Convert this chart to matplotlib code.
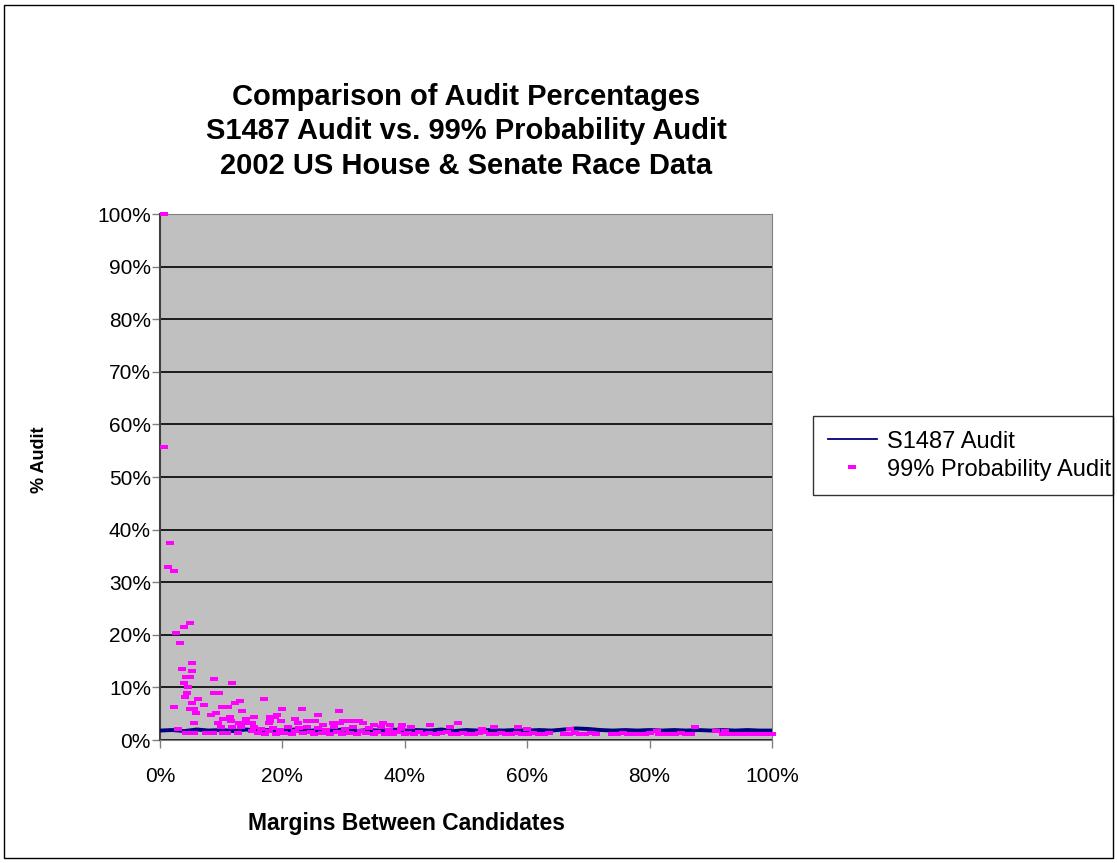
import matplotlib.pyplot as plt
from matplotlib.patches import Rectangle

plt.rcParams['font.family'] = ['Liberation Sans', 'DejaVu Sans']

# margin between candidates (%) and 99% probability audit (%)
prob_margin = [
    0.6, 0.6, 1.6, 1.3, 2.3, 4.9, 3.9, 2.7, 3.3, 5.2, 3.6, 5.2, 4.2, 4.9, 3.9,
    4.6, 8.8, 11.8, 4.4, 4.1, 6.2, 5.2, 2.3, 7.2, 8.8, 9.6, 4.9, 5.6, 5.9, 10.1,
    11.1, 12.3, 13.1, 17.0, 8.3, 9.2, 13.4, 10.3, 11.4, 5.6, 9.5, 11.6, 14.1,
    15.4, 12.9, 13.9, 15.0, 10.0, 11.7, 13.2, 15.4, 2.9, 15.0, 4.2, 5.6, 7.5,
    8.7, 10.3, 10.9, 12.7, 17.8, 18.0,
    19.9, 23.2, 25.8, 29.2, 19.1, 18.8, 22.1, 18.0, 19.8, 24.0, 25.3, 22.5,
    26.6, 28.3, 29.9, 31.2, 32.5, 36.4, 35.0, 37.6, 33.2, 29.4, 39.5, 41.0,
    44.1, 48.7, 47.4, 54.6, 58.5, 52.6, 60.0, 67.0, 87.4, 90.8, 92.3, 81.2,
    16.0, 16.5, 17.2, 17.8, 18.5, 19.0, 19.6, 20.3, 20.9, 21.5, 22.0, 22.8,
    23.4, 24.0, 24.6, 25.2, 25.9, 26.5, 27.1, 27.8, 28.5, 29.0, 29.7, 30.3,
    31.0, 31.6, 32.2, 32.9, 33.6, 34.2, 34.9, 35.5, 36.2, 36.8, 37.5, 38.1,
    38.8, 39.4, 40.0,
    40.5, 41.5, 42.3, 43.2, 44.0, 45.1, 46.0, 46.9, 47.8, 48.6, 49.5, 50.4,
    51.3, 52.2, 53.0, 53.9, 54.8, 55.7, 56.6, 57.4, 58.3, 59.2, 60.1, 61.0,
    61.9, 62.8, 63.5, 66.0, 66.9, 67.8, 68.6, 69.5, 70.4, 71.2, 73.8, 74.7,
    75.6, 76.5, 77.4, 78.3, 79.2, 80.1, 81.5, 82.4, 83.3, 84.2, 85.1, 86.0,
    86.8, 92.0, 93.0, 94.2, 95.3, 96.5, 97.6, 98.8, 100.0,
]
prob_audit = [
    100.0, 55.7, 37.4, 32.9, 32.1, 22.2, 21.5, 20.3, 18.4, 14.6, 13.5, 13.1,
    12.0, 12.0, 10.8, 10.1, 11.6, 10.8, 8.9, 8.2, 7.8, 7.0, 6.3, 6.7, 8.9, 8.9,
    5.9, 5.9, 5.1, 6.3, 6.3, 7.0, 7.4, 7.8, 4.8, 5.1, 5.5, 4.0, 4.4, 3.2, 3.2,
    3.6, 4.0, 4.4, 3.2, 3.2, 3.2, 2.5, 2.5, 2.5, 2.5, 2.1, 1.7, 1.3, 1.3, 1.3,
    1.3, 1.3, 1.3, 1.3, 3.2, 4.4,
    5.9, 5.9, 4.8, 5.5, 4.8, 4.4, 4.0, 3.6, 3.6, 3.6, 3.6, 3.2, 2.9, 3.2, 3.6,
    3.6, 3.6, 3.2, 2.9, 2.9, 3.2, 3.2, 2.9, 2.5, 2.9, 3.2, 2.5, 2.5, 2.5, 2.1,
    2.1, 2.1, 2.5, 1.7, 1.7, 1.7,
    1.3, 2.1, 1.1, 1.7, 2.3, 1.2, 1.9, 1.4, 2.5, 1.1, 1.8, 2.2, 1.3, 2.5, 1.6,
    1.1, 2.2, 1.4, 1.9, 1.1, 2.4, 1.5, 1.2, 2.1, 1.4, 2.5, 1.1, 1.8, 1.3, 2.2,
    1.1, 1.6, 2.4, 1.2, 1.9, 1.1, 1.5, 2.1, 1.2,
    1.3, 1.1, 1.5, 1.2, 1.4, 1.1, 1.3, 1.5, 1.2, 1.1, 1.4, 1.2, 1.1, 1.3, 1.5,
    1.2, 1.1, 1.4, 1.2, 1.1, 1.3, 1.2, 1.1, 1.4, 1.2, 1.1, 1.3, 1.2, 1.1, 1.4,
    1.2, 1.1, 1.3, 1.1, 1.2, 1.1, 1.3, 1.2, 1.1, 1.2, 1.1, 1.3, 1.2, 1.1, 1.2,
    1.1, 1.3, 1.2, 1.1, 1.2, 1.1, 1.2, 1.1, 1.2, 1.1, 1.2, 1.1,
]

# S1487 audit (%) by margin
s1487_margin = [
    0, 2, 4, 6, 8, 10, 12, 14, 16, 18, 20, 22, 24, 26, 28, 30, 32, 34, 36, 38,
    40, 42, 44, 46, 48, 50, 52, 54, 56, 58, 60, 62, 64, 66, 68, 70, 72, 74, 76,
    78, 80, 82, 84, 86, 88, 90, 92, 94, 96, 98, 100,
]
s1487_audit = [
    1.8, 1.9, 1.7, 2.0, 1.8, 1.9, 1.7, 2.0, 1.8, 1.9, 1.8, 2.0, 1.7, 1.9, 1.8,
    2.0, 1.7, 1.9, 1.8, 2.0, 1.8, 1.9, 1.8, 2.0, 1.7, 1.9, 1.8, 1.9, 1.8, 1.9,
    1.8, 1.9, 1.8, 2.0, 2.2, 2.1, 1.9, 1.8, 1.9, 1.8, 1.9, 1.8, 1.9, 1.8, 1.9,
    1.8, 1.9, 1.8, 1.9, 1.8, 1.8,
]

fig = plt.figure(figsize=(11.17, 8.63), dpi=100)
ax = fig.add_axes([0.1432, 0.1425, 0.5479, 0.6095])
ax.set_facecolor('#C0C0C0')

ax.plot(s1487_margin, s1487_audit, color='#000080', lw=2.8, zorder=3,
        label='S1487 Audit')
rect = [(-1, -0.45), (1, -0.45), (1, 0.45), (-1, 0.45), (-1, -0.45)]
ax.plot(prob_margin, prob_audit, ls='none', marker=rect, ms=6, mew=0,
        color='#FF00FF', zorder=4, clip_on=False,
        label='99% Probability Audit')

ax.set_xlim(0, 100)
ax.set_ylim(0, 100)
ax.set_xticks(range(0, 101, 20))
ax.set_xticklabels([f'{v}%' for v in range(0, 101, 20)], fontsize=15)
ax.set_yticks(range(0, 101, 10))
ax.set_yticklabels([f'{v}%' for v in range(0, 101, 10)], fontsize=15)
ax.tick_params(direction='out', length=5.5, color='#808080', width=1)
ax.tick_params(axis='x', pad=14)
ax.tick_params(axis='y', pad=1)
ax.grid(axis='y', color='black', lw=1.2)
ax.set_axisbelow(True)
for s in ax.spines.values():
    s.set_color('#808080')
ax.spines['left'].set_color('#404040')
ax.spines['left'].set_linewidth(1.5)

# axis titles placed in figure pixels-as-fractions
fig.text(406 / 1117, 1 - 823 / 863, 'Margins Between Candidates',
         fontsize=16.5, fontweight='bold', ha='center', va='center')
fig.text(40 / 1117, 1 - 460 / 863, '% Audit', fontsize=13,
         fontweight='bold', ha='center', va='center', rotation=90)

ax.set_title('Comparison of Audit Percentages\n'
             'S1487 Audit vs. 99% Probability Audit\n'
             '2002 US House & Senate Race Data',
             fontsize=21, fontweight='bold', linespacing=1.3, pad=29)

leg = ax.legend(loc='upper left', bbox_to_anchor=(0.7278, 0.518, 0.2686, 0),
                bbox_transform=fig.transFigure, mode='expand', fontsize=17,
                frameon=True, fancybox=False, edgecolor='black',
                handlelength=2.1, handletextpad=0.42, borderpad=0.62,
                labelspacing=0.25, borderaxespad=0)
leg.get_frame().set_linewidth(1)
leg.get_lines()[0].set_linewidth(1.3)

fig.patches.append(Rectangle((0.004, 0.006), 0.992, 0.988,
                             transform=fig.transFigure, fill=False,
                             edgecolor='black', lw=1))

fig.savefig('out.png', dpi=100)
